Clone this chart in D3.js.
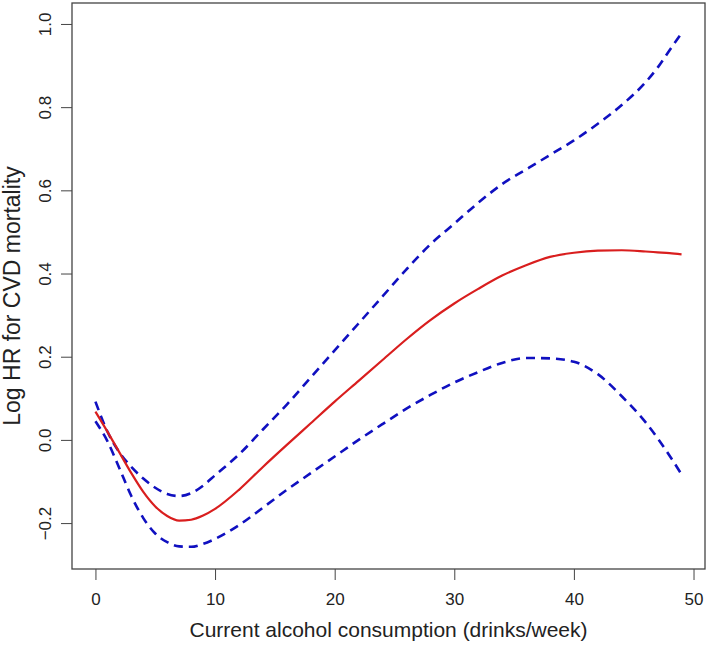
<!DOCTYPE html>
<html>
<head>
<meta charset="utf-8">
<script src="https://cdn.jsdelivr.net/npm/d3@7"></script>
<style>
  body { margin: 0; background: #fff; }
  text { font-family: "Liberation Sans", Arial, sans-serif; fill: #222; }
</style>
</head>
<body>
<div id="chart"></div>
<script>
// drinks/week
let xs = [0, 1, 2, 3, 4, 5, 6, 7, 8, 9, 10, 12, 14, 16, 18, 20, 22, 24, 26, 28, 30, 32, 34, 36, 38, 40, 42, 44, 46, 47, 48, 49]

// log HR estimate + 95% CI
let estimate = [0.068, 0.02, -0.03, -0.08, -0.125, -0.16, -0.183, -0.194, -0.192, -0.182, -0.166, -0.12, -0.065, -0.012, 0.04, 0.092, 0.142, 0.192, 0.242, 0.288, 0.328, 0.363, 0.395, 0.42, 0.44, 0.45, 0.455, 0.456, 0.453, 0.451, 0.449, 0.446]
let upper = [0.092, 0.02, -0.03, -0.065, -0.093, -0.115, -0.13, -0.135, -0.128, -0.11, -0.085, -0.035, 0.025, 0.085, 0.15, 0.215, 0.28, 0.345, 0.41, 0.47, 0.52, 0.57, 0.615, 0.65, 0.685, 0.72, 0.76, 0.805, 0.86, 0.895, 0.937, 0.978]
let lower = [0.045, -0.003, -0.068, -0.135, -0.188, -0.225, -0.246, -0.256, -0.257, -0.25, -0.238, -0.205, -0.163, -0.12, -0.08, -0.04, 0.0, 0.038, 0.075, 0.108, 0.138, 0.163, 0.185, 0.197, 0.196, 0.188, 0.158, 0.105, 0.042, 0.004, -0.038, -0.083]

let xTicks = [0, 10, 20, 30, 40, 50]
let yTicks = [-0.2, 0.0, 0.2, 0.4, 0.6, 0.8, 1.0]

let width = 709
let height = 645
let margin = { top: 3, right: 4, bottom: 76, left: 72 }

let svg = d3.select('#chart')
    .append('svg')
    .attr('width', width)
    .attr('height', height)

// R style 4% padding on both axes
let xPad = 49 * 0.04
let yMin = -0.26, yMax = 1.0
let yPad = (yMax - yMin) * 0.04

let xScale = d3.scaleLinear()
    .domain([0 - xPad, 49 + xPad])
    .range([margin.left, width - margin.right])

let yScale = d3.scaleLinear()
    .domain([yMin - yPad, yMax + yPad])
    .range([height - margin.bottom, margin.top])

let xAxis = d3.axisBottom(xScale)
    .tickValues(xTicks)
    .tickSize(11)
    .tickPadding(13)
    .tickFormat(d3.format('d'))

let yAxis = d3.axisLeft(yScale)
    .tickValues(yTicks)
    .tickSize(11)
    .tickFormat(d => d3.format('.1f')(d).replace('-', '\u2212'))

let xAxisEl = svg.append('g')
    .attr('transform', `translate(0,${height - margin.bottom})`)
    .call(xAxis)
xAxisEl.select('.domain').remove()
xAxisEl.selectAll('line').attr('stroke', '#444')
xAxisEl.selectAll('text')
    .style('font-size', '17px')
    .attr('fill', '#222')

let yAxisEl = svg.append('g')
    .attr('transform', `translate(${margin.left},0)`)
    .call(yAxis)
yAxisEl.select('.domain').remove()
yAxisEl.selectAll('line').attr('stroke', '#444')
yAxisEl.selectAll('text')
    .style('font-size', '17px')
    .attr('fill', '#222')
    .attr('x', null)
    .attr('text-anchor', 'middle')
    .attr('transform', 'translate(-27,0) rotate(-90)')
    .attr('dy', '0.35em')

// box
svg.append('rect')
    .attr('x', margin.left)
    .attr('y', margin.top)
    .attr('width', width - margin.left - margin.right)
    .attr('height', height - margin.top - margin.bottom)
    .attr('fill', 'none')
    .attr('stroke', '#444')
    .attr('stroke-width', 1.3)

let line = d3.line()
    .x((d, i) => xScale(xs[i]))
    .y(d => yScale(d))
    .curve(d3.curveMonotoneX)

svg.append('path')
    .datum(upper)
    .attr('d', line)
    .attr('fill', 'none')
    .attr('stroke', '#1010c0')
    .attr('stroke-width', 2.6)
    .attr('stroke-dasharray', '9,6')

svg.append('path')
    .datum(lower)
    .attr('d', line)
    .attr('fill', 'none')
    .attr('stroke', '#1010c0')
    .attr('stroke-width', 2.6)
    .attr('stroke-dasharray', '9,6')

svg.append('path')
    .datum(estimate)
    .attr('d', line)
    .attr('fill', 'none')
    .attr('stroke', '#d91e1e')
    .attr('stroke-width', 2.2)

// axis titles
svg.append('text')
    .attr('x', (margin.left + width - margin.right) / 2)
    .attr('y', 637)
    .attr('text-anchor', 'middle')
    .style('font-size', '21px')
    .text('Current alcohol consumption (drinks/week)')

svg.append('text')
    .attr('transform', 'translate(20,296) rotate(-90)')
    .attr('text-anchor', 'middle')
    .style('font-size', '23px')
    .text('Log HR for CVD mortality')
</script>
</body>
</html>
